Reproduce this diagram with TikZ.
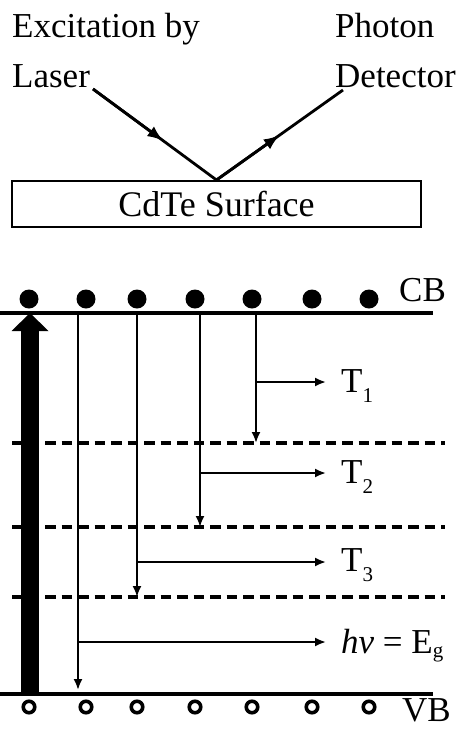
\documentclass[tikz,border=0pt]{standalone}
\usepackage{fontspec}
\setmainfont{Liberation Serif}
\usetikzlibrary{arrows.meta,calc}

\newcommand\lowidx[2]{\raisebox{-#1}{\fontsize{21}{22}\selectfont #2}}

\tikzset{
  dot/.style={circle,fill,inner sep=0pt,minimum size=19pt},
  hole/.style={circle,draw,line width=3.6pt,inner sep=0pt,minimum size=11.5pt},
  band/.style={line width=3.2pt},
  trap/.style={line width=3.4pt,dash pattern=on 10.5pt off 6pt},
  decay/.style={line width=2pt,-{Latex[length=11pt,width=9pt]}},
  beam/.style={line width=2.8pt},
  lbl/.style={font=\fontsize{35}{40}\selectfont,anchor=base west,inner xsep=15pt,inner ysep=0pt},
  toplbl/.style={font=\fontsize{35}{40}\selectfont,anchor=base west,inner sep=0pt}
}

\begin{document}
\begin{tikzpicture}[x=1pt,y=-1pt]
\useasboundingbox (0,0) rectangle (457,729);

        \node[toplbl] (exc) at (12,37) {Excitation by};
        \node[toplbl] (laser) at (12,87) {Laser};
        \node[toplbl] (photon) at (335,37) {Photon};
        \node[toplbl] (detector) at (335,87) {Detector};
        \node[draw, line width=2pt, minimum width=409pt, minimum height=46pt, inner sep=0pt,
              font=\fontsize{36}{40}\selectfont] (surface) at (216.5,204) {CdTe Surface};
        \coordinate (in) at (93,89);
        \coordinate (out) at (343,90);
        \coordinate (hit) at (surface.north);
        \draw[beam] (in) -- (hit) -- (out);
        \draw[beam, -{Latex[length=16pt,width=12pt]}] (in) -- ($(in)!0.57!(hit)$);
        \draw[beam, -{Latex[length=16pt,width=12pt]}] (hit) -- ($(hit)!0.5!(out)$);

        \foreach \i/\x in {1/29,2/86,3/137,4/195,5/252,6/312,7/369} {
            \node[dot] (cb\i) at (\x,299) {};
            \node[hole] (vb\i) at (\x,707) {};
        }
        \node[lbl, inner xsep=0pt] (CB) at (399,301) {CB};
        \node[lbl, inner xsep=0pt] (VB) at (402,721) {VB};
        \draw[band] (0,313) -- (433,313);
        \draw[band] (0,694) -- (433,694);
        \draw[trap] (12,443) -- (445,443);
        \draw[trap] (12,527) -- (445,527);
        \draw[trap] (12,597) -- (445,597);

        \coordinate (up0) at (30,694);
        \coordinate (up1) at (30,313);
        \draw[line width=18pt, -{Triangle[width=37pt,length=18pt,line width=0pt]}] (up0) -- (up1);

        \coordinate (s1) at (256,313);
        \coordinate (s2) at (200,313);
        \coordinate (s3) at (137,313);
        \coordinate (s4) at (78,313);
        \coordinate (e1) at (256,443);
        \coordinate (e2) at (200,527);
        \coordinate (e3) at (137,597);
        \coordinate (e4) at (78,690);
        \coordinate (h1) at (256,382);
        \coordinate (h2) at (200,473);
        \coordinate (h3) at (137,562);
        \coordinate (h4) at (78,642);
        \node[lbl] (T1) at (326,392) {T\lowidx{10pt}{1}};
        \node[lbl] (T2) at (326,483) {T\lowidx{10pt}{2}};
        \node[lbl] (T3) at (326,571) {T\lowidx{10pt}{3}};
        \node[lbl] (Eg) at (326,653) {\textit{hv} = E\lowidx{4pt}{g}};
        \draw[decay] (s1) -- (e1);
        \draw[decay] (s2) -- (e2);
        \draw[decay] (s3) -- (e3);
        \draw[decay] (s4) -- (e4);
        \draw[decay] (h1) -- (h1 -| T1.west);
        \draw[decay] (h2) -- (h2 -| T2.west);
        \draw[decay] (h3) -- (h3 -| T3.west);
        \draw[decay] (h4) -- (h4 -| Eg.west);
\end{tikzpicture}
\end{document}
